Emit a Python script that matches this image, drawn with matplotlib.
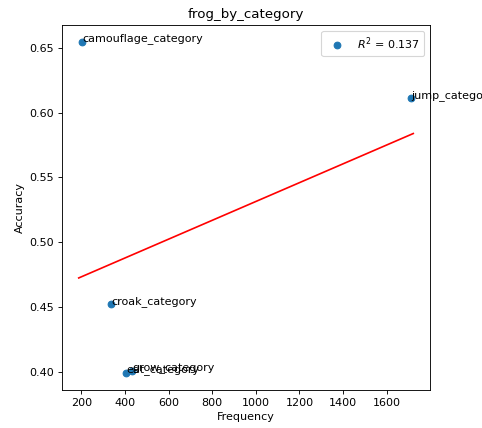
import matplotlib
matplotlib.use("Agg")
import matplotlib.pyplot as plt
import matplotlib.ticker as mticker
import numpy as np

# frequency vs accuracy per frog category
categories = ["camouflage_category", "jump_category", "croak_category",
              "eat_category", "grow_category"]
frequency = np.array([203, 1712, 337, 407, 432])
accuracy = np.array([0.6549, 0.6116, 0.4524, 0.3986, 0.4006])

slope, intercept = np.polyfit(frequency, accuracy, 1)
pred = slope * frequency + intercept
r2 = 1 - np.sum((accuracy - pred) ** 2) / np.sum((accuracy - accuracy.mean()) ** 2)

fig = plt.figure(figsize=(6.025, 5.35), dpi=80)
ax = fig.add_axes([62 / 482, 38 / 428, 368 / 482, 365 / 428])

ax.scatter(frequency, accuracy, label=f"$R^2$ = {r2:.3f}")
for name, x, y in zip(categories, frequency, accuracy):
    ax.text(x, y, name)

line_x = np.array([frequency.min() - 15, frequency.max() + 10])
ax.plot(line_x, slope * line_x + intercept, color="red")

ax.xaxis.set_major_locator(mticker.MultipleLocator(200))
ax.set_title("frog_by_category")
ax.set_xlabel("Frequency")
ax.set_ylabel("Accuracy")
ax.legend(loc="upper right")

fig.savefig("out.png", dpi=80)
